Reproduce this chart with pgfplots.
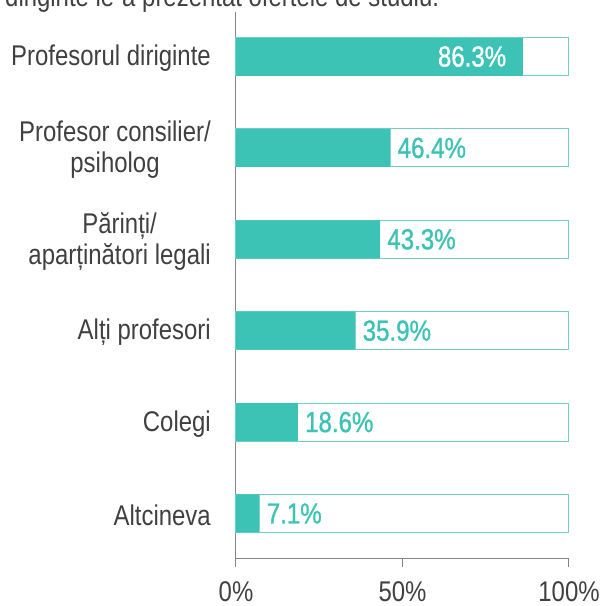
\documentclass[border=0pt]{standalone}
\usepackage{pgfplots}
\pgfplotsset{compat=1.18}
\usepackage{fontspec}
\setmainfont{Liberation Sans}[FakeStretch=0.84]
\newfontfamily\valfont{Liberation Sans}[FakeStretch=0.83,FakeBold=1]
\definecolor{tealc}{HTML}{3CC3B5}
\definecolor{txt}{HTML}{404040}
\definecolor{axc}{HTML}{858585}
\begin{document}
\begin{tikzpicture}[x=1pt,y=1pt]
\useasboundingbox (0,0) rectangle (603,606);
\node[anchor=base west, inner sep=0pt, text=txt, font=\fontsize{28.5}{31}\selectfont] at (5,599.5) {diriginte le-a prezentat ofertele de studiu.};
\begin{axis}[
  at={(236pt,47pt)}, anchor=south west,
  scale only axis, width=333pt, height=547pt,
  xmin=0, xmax=100, ymin=-0.498, ymax=5.487,
  axis x line*=bottom, axis y line*=left,
  axis line style={-, axc, line width=1pt},
  xtick={0,50,100}, xticklabels={0\%,50\%,100\%},
  tick align=outside, major tick length=8pt,
  x tick style={axc, line width=1pt},
  ytick={0,1,2,3,4,5},
  yticklabels={Altcineva, Colegi, Alți profesori, {Părinți/\\aparținători legali}, {Profesor consilier/\\psiholog}, Profesorul diriginte},
  yticklabel style={align=center, text=txt, font=\fontsize{28.5}{31}\selectfont, inner sep=0pt, xshift=-17pt, yshift=-2pt},
  y tick style={draw=none},
  xticklabel style={text=txt, font=\fontsize{28.5}{31}\selectfont, inner sep=0pt, yshift=-14pt},
  xbar, bar width=38pt, bar shift=0pt,
  clip=false,
]
\addplot[fill=white, draw=tealc!75, line width=1pt] coordinates {(100,0) (100,1) (100,2) (100,3) (100,4) (100,5)};
\addplot[fill=tealc, draw=none, nodes near coords, point meta=explicit symbolic,
  nodes near coords style={anchor=west, inner sep=0pt, xshift=7pt, text=tealc, font=\valfont\fontsize{29}{31}\selectfont}]
  coordinates {(7.1,0) [7.1\%] (18.6,1) [18.6\%] (35.9,2) [35.9\%] (43.3,3) [43.3\%] (46.4,4) [46.4\%]};
\addplot[fill=tealc, draw=none, nodes near coords, point meta=explicit symbolic,
  nodes near coords style={anchor=east, inner sep=0pt, xshift=-17pt, text=white, font=\valfont\fontsize{29}{31}\selectfont}]
  coordinates {(86.3,5) [86.3\%]};
\end{axis}
\end{tikzpicture}
\end{document}
